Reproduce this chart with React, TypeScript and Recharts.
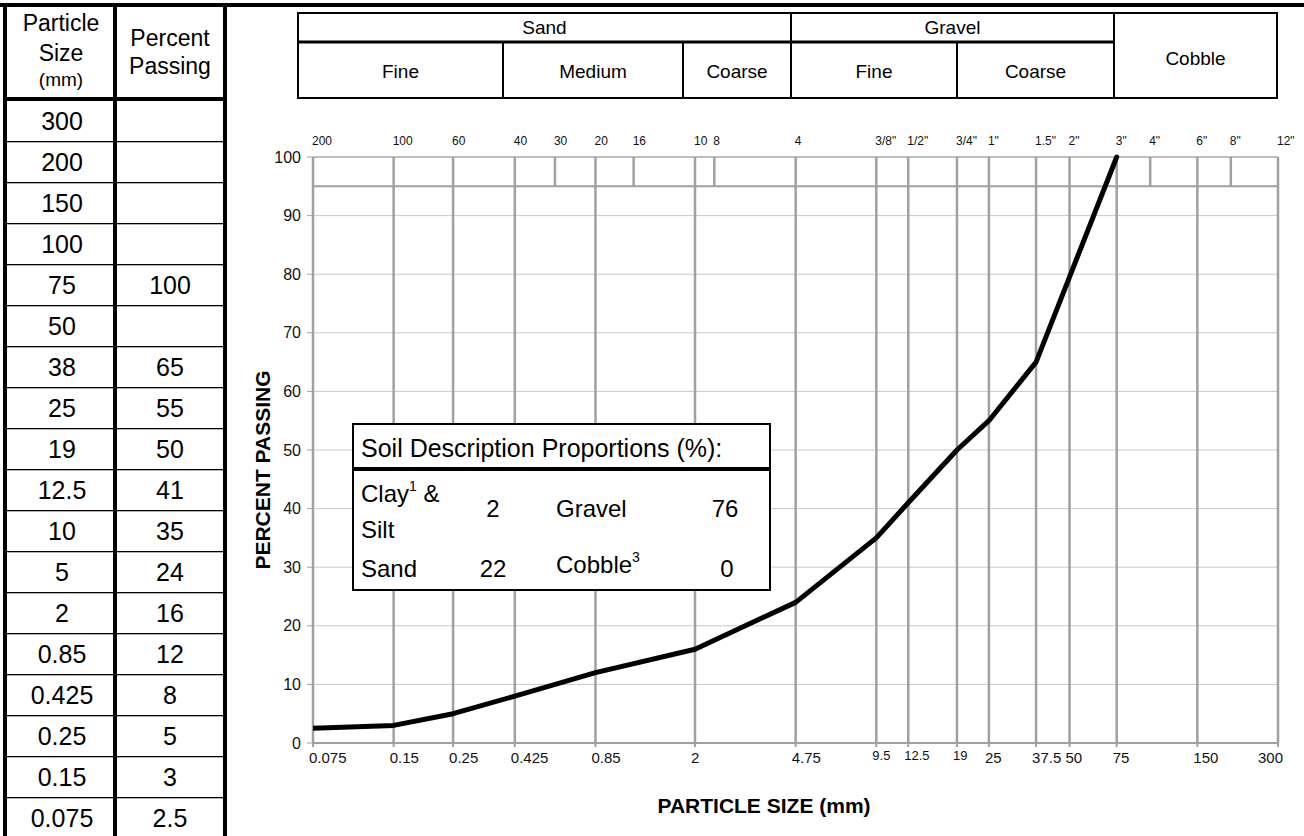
import React from 'react';
import { LineChart, Line, XAxis, YAxis, CartesianGrid, ReferenceLine } from 'recharts';

// ---- Data ----
const tableSizes = ['300', '200', '150', '100', '75', '50', '38', '25', '19', '12.5', '10', '5', '2', '0.85', '0.425', '0.25', '0.15', '0.075'];
const tablePassing = ['', '', '', '', '100', '', '65', '55', '50', '41', '35', '24', '16', '12', '8', '5', '3', '2.5'];

const curveSizes = [0.075, 0.15, 0.25, 0.425, 0.85, 2, 4.75, 9.5, 12.5, 19, 25, 37.5, 75];
const curvePassing = [2.5, 3, 5, 8, 12, 16, 24, 35, 41, 50, 55, 65, 100];

const bottomTicks = [0.075, 0.15, 0.25, 0.425, 0.85, 2, 4.75, 9.5, 12.5, 19, 25, 37.5, 50, 75, 150, 300];
const smallBottomTicks = [9.5, 12.5, 19];
const sieveSizes = [0.075, 0.15, 0.25, 0.425, 0.6, 0.85, 1.18, 2, 2.36, 4.75, 9.5, 12.5, 19, 25, 37.5, 50, 75, 100, 150, 200, 300];
const sieveLabels = ['200', '100', '60', '40', '30', '20', '16', '10', '8', '4', '3/8"', '1/2"', '3/4"', '1"', '1.5"', '2"', '3"', '4"', '6"', '8"', '12"'];
const yTicks = [0, 10, 20, 30, 40, 50, 60, 70, 80, 90, 100];

const mainGroups = ['Sand', 'Gravel', 'Cobble'];
const subGroups = ['Fine', 'Medium', 'Coarse', 'Fine', 'Coarse'];

const proportionLabels = ['Clay', 'Sand', 'Gravel', 'Cobble'];
const proportionValues = [2, 22, 76, 0];

const data = curveSizes.map((s, i) => ({ size: s, passing: curvePassing[i] }));

const FONT = '"Liberation Sans", Arial, Helvetica, sans-serif';

const BottomTick = (props: any) => {
  const { x, y, payload, index } = props;
  const v = payload.value;
  const small = smallBottomTicks.includes(v);
  const last = index === bottomTicks.length - 1;
  return (
    <text
      x={last ? x + 5 : x - 4}
      y={small ? y + 11 : y + 14}
      textAnchor={last ? 'end' : 'start'}
      fontSize={small ? 13 : 15}
      fill="#111"
      fontFamily={FONT}
    >
      {String(v)}
    </text>
  );
};

const TopTick = (props: any) => {
  const { x, y, payload } = props;
  const i = sieveSizes.indexOf(payload.value);
  return (
    <text x={x - 1} y={y - 4} textAnchor="start" fontSize={12} fill="#111" fontFamily={FONT}>
      {sieveLabels[i]}
    </text>
  );
};

const rowH = 41;
const rowTop = 101;

export default function App() {
  return (
    <div style={{ position: 'absolute', left: 0, top: 0, width: 1304, height: 836, overflow: 'hidden', background: '#fff', fontFamily: FONT }}>
      <div style={{ position: 'absolute', left: 0, top: 0 }}>
        <LineChart width={1304} height={836} data={data} margin={{ top: 137, right: 26, bottom: 63, left: 253 }}>
          <CartesianGrid vertical={false} stroke="#c8c8c8" strokeWidth={1} />
          <XAxis
            dataKey="size"
            type="number"
            scale="log"
            domain={[0.075, 300]}
            allowDataOverflow
            ticks={bottomTicks}
            interval={0}
            height={30}
            tickSize={4}
            tickMargin={2}
            axisLine={{ stroke: '#a0a0a0', strokeWidth: 2 }}
            tickLine={{ stroke: '#a0a0a0', strokeWidth: 2 }}
            tick={<BottomTick />}
          />
          <XAxis
            xAxisId="top"
            orientation="top"
            dataKey="size"
            type="number"
            scale="log"
            domain={[0.075, 300]}
            allowDataOverflow
            ticks={sieveSizes}
            interval={0}
            height={20}
            axisLine={false}
            tickLine={false}
            tick={<TopTick />}
          />
          <YAxis
            type="number"
            domain={[0, 100]}
            ticks={yTicks}
            interval={0}
            width={60}
            axisLine={false}
            tickLine={{ stroke: '#a0a0a0' }}
            tickSize={6}
            tickMargin={6}
            tick={{ fontSize: 16, fill: '#111', fontFamily: FONT }}
          />
          <ReferenceLine y={95} stroke="#a0a0a0" strokeWidth={2} />
          <ReferenceLine y={100} stroke="#b0b0b0" strokeWidth={1.5} />
          {sieveSizes.map((s) => (
            <ReferenceLine
              key={'s' + s}
              segment={[{ x: s, y: 95 }, { x: s, y: 100 }]}
              stroke="#a0a0a0"
              strokeWidth={2.5}
            />
          ))}
          {bottomTicks.map((s) => (
            <ReferenceLine
              key={'b' + s}
              segment={[{ x: s, y: 0 }, { x: s, y: 95 }]}
              stroke="#a0a0a0"
              strokeWidth={2.5}
            />
          ))}
          <Line
            type="linear"
            dataKey="passing"
            stroke="#000"
            strokeWidth={5}
            dot={false}
            activeDot={false}
            strokeLinecap="round"
            strokeLinejoin="round"
            isAnimationActive={false}
          />
        </LineChart>
      </div>

      <svg width={1304} height={836} style={{ position: 'absolute', left: 0, top: 0, pointerEvents: 'none' }} fontFamily={FONT}>
        {/* frame lines */}
        <rect x={0} y={3} width={1304} height={4} fill="#000" />
        <rect x={3} y={3} width={4} height={833} fill="#000" />
        <rect x={113} y={3} width={4} height={833} fill="#000" />
        <rect x={223} y={3} width={4} height={833} fill="#000" />
        <rect x={3} y={97} width={224} height={4} fill="#000" />
        {tableSizes.slice(0, tableSizes.length - 1).map((_, i) => (
          <rect key={'rl' + i} x={7} y={rowTop + rowH * (i + 1) - 1} width={216} height={1.3} fill="#000" />
        ))}

        {/* left table header */}
        <text x={61} y={31} textAnchor="middle" fontSize={23} fill="#000">Particle</text>
        <text x={61} y={61} textAnchor="middle" fontSize={23} fill="#000">Size</text>
        <text x={61} y={86} textAnchor="middle" fontSize={19} fill="#000">(mm)</text>
        <text x={170} y={46} textAnchor="middle" fontSize={23} fill="#000">Percent</text>
        <text x={170} y={74} textAnchor="middle" fontSize={23} fill="#000">Passing</text>

        {/* left table rows */}
        {tableSizes.map((s, i) => (
          <text key={'ts' + i} x={62} y={rowTop + rowH * i + 29} textAnchor="middle" fontSize={25} fill="#000">{s}</text>
        ))}
        {tablePassing.map((p, i) => (
          <text key={'tp' + i} x={170} y={rowTop + rowH * i + 29} textAnchor="middle" fontSize={25} fill="#000">{p}</text>
        ))}

        {/* soil classification header */}
        <rect x={298} y={13} width={979} height={85} fill="none" stroke="#000" strokeWidth={2} />
        <line x1={298} y1={42} x2={1114} y2={42} stroke="#000" strokeWidth={3} />
        <line x1={791} y1={13} x2={791} y2={98} stroke="#000" strokeWidth={2} />
        <line x1={1114} y1={13} x2={1114} y2={98} stroke="#000" strokeWidth={2} />
        <line x1={503} y1={42} x2={503} y2={98} stroke="#000" strokeWidth={2} />
        <line x1={683} y1={42} x2={683} y2={98} stroke="#000" strokeWidth={2} />
        <line x1={957} y1={42} x2={957} y2={98} stroke="#000" strokeWidth={2} />
        <text x={544.5} y={34} textAnchor="middle" fontSize={19} fill="#000">{mainGroups[0]}</text>
        <text x={952.5} y={34} textAnchor="middle" fontSize={19} fill="#000">{mainGroups[1]}</text>
        <text x={1195.5} y={65} textAnchor="middle" fontSize={19} fill="#000">{mainGroups[2]}</text>
        <text x={400.5} y={78} textAnchor="middle" fontSize={19} fill="#000">{subGroups[0]}</text>
        <text x={593} y={78} textAnchor="middle" fontSize={19} fill="#000">{subGroups[1]}</text>
        <text x={737} y={78} textAnchor="middle" fontSize={19} fill="#000">{subGroups[2]}</text>
        <text x={874} y={78} textAnchor="middle" fontSize={19} fill="#000">{subGroups[3]}</text>
        <text x={1035.5} y={78} textAnchor="middle" fontSize={19} fill="#000">{subGroups[4]}</text>

        {/* axis titles */}
        <text x={262} y={470} transform="rotate(-90 262 470)" textAnchor="middle" dominantBaseline="central" fontSize={21} fontWeight="bold" fill="#000">PERCENT PASSING</text>
        <text x={764} y={813} textAnchor="middle" fontSize={21} fontWeight="bold" fill="#000">PARTICLE SIZE (mm)</text>

        {/* soil description box */}
        <rect x={353} y={424} width={417} height={166} fill="#fff" stroke="#000" strokeWidth={2} />
        <rect x={353} y={467} width={417} height={4} fill="#000" />
        <text x={361} y={457} fontSize={25} fill="#000">Soil Description Proportions (%):</text>
        <text x={361} y={502} fontSize={24} fill="#000">
          {proportionLabels[0]}<tspan dy={-11} fontSize={14}>1</tspan><tspan dy={11}> &amp;</tspan>
        </text>
        <text x={361} y={538} fontSize={24} fill="#000">Silt</text>
        <text x={493} y={517} textAnchor="middle" fontSize={24} fill="#000">{proportionValues[0]}</text>
        <text x={556} y={517} fontSize={24} fill="#000">{proportionLabels[2]}</text>
        <text x={725} y={517} textAnchor="middle" fontSize={24} fill="#000">{proportionValues[2]}</text>
        <text x={361} y={577} fontSize={24} fill="#000">{proportionLabels[1]}</text>
        <text x={493} y={577} textAnchor="middle" fontSize={24} fill="#000">{proportionValues[1]}</text>
        <text x={556} y={573} fontSize={24} fill="#000">
          {proportionLabels[3]}<tspan dy={-11} fontSize={14}>3</tspan>
        </text>
        <text x={727} y={577} textAnchor="middle" fontSize={24} fill="#000">{proportionValues[3]}</text>
      </svg>
    </div>
  );
}
